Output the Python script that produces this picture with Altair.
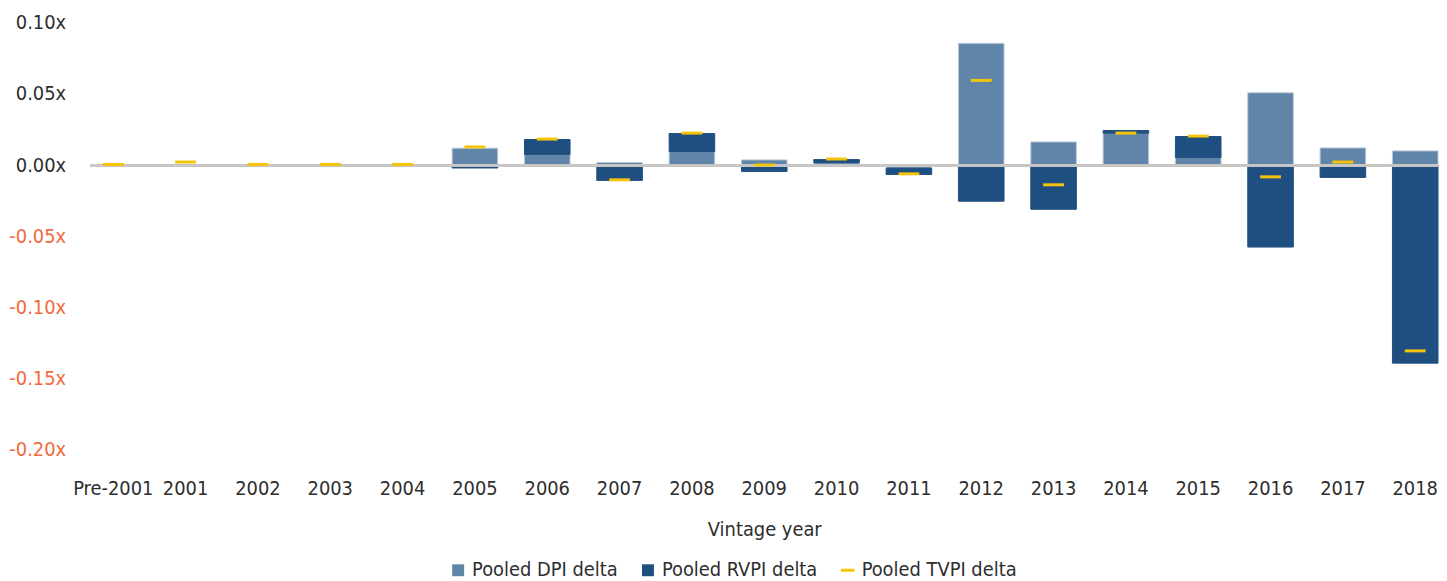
import altair as alt
import pandas as pd

categories = ["Pre-2001", "2001", "2002", "2003", "2004", "2005", "2006", "2007", "2008", "2009",
              "2010", "2011", "2012", "2013", "2014", "2015", "2016", "2017", "2018"]
dpi_delta = [0.0, 0.0, 0.0, 0.0, 0.0, 0.0119, 0.0075, 0.0019, 0.0096, 0.0037,
             0.0019, -0.0023, 0.0855, 0.0163, 0.0224, 0.0054, 0.0508, 0.0121, 0.0100]
rvpi_delta = [0.0, 0.0, 0.0, 0.0, 0.0, -0.0020, 0.0105, -0.0107, 0.0126, -0.0044,
              0.0020, -0.0042, -0.0253, -0.0310, 0.0019, 0.0147, -0.0575, -0.0086, -0.1390]
tvpi_delta = [0.0005, 0.0022, 0.0005, 0.0005, 0.0005, 0.0128, 0.0183, -0.0103, 0.0225, 0.0001,
              0.0043, -0.0061, 0.0595, -0.0138, 0.0225, 0.0204, -0.0082, 0.0022, -0.1304]
series_names = ["Pooled DPI delta", "Pooled RVPI delta", "Pooled TVPI delta"]
y_ticks = [-0.20, -0.15, -0.10, -0.05, 0.0, 0.05, 0.10]

rows = []
for i, c in enumerate(categories):
    rows.append({"year": c, "series": series_names[0], "value": dpi_delta[i], "ord": 0})
    rows.append({"year": c, "series": series_names[1], "value": rvpi_delta[i], "ord": 1})
    rows.append({"year": c, "series": series_names[2], "value": tvpi_delta[i], "ord": 2})
df = pd.DataFrame(rows)

FONT = "DejaVu Sans Condensed, Roboto, sans-serif"
DPI_C = "#6085A8"
RVPI_C = "#1F4F80"
TVPI_C = "#F5C30A"
NEG_C = "#F26A3D"
TXT_C = "#2E2E2E"

color_scale = alt.Scale(domain=series_names, range=[DPI_C, RVPI_C, TVPI_C])

x_enc = alt.X("year:N", sort=categories, title="Vintage year",
              scale=alt.Scale(paddingInner=0.37, paddingOuter=0.0),
              axis=alt.Axis(labelAngle=0, ticks=False, tickSize=0, domain=False,
                            labelPadding=29, titlePadding=21,
                            labelFontSize=20, titleFontSize=20, labelColor=TXT_C,
                            titleColor=TXT_C, titleFontWeight="normal",
                            labelFont=FONT, titleFont=FONT))

y_axis = alt.Axis(values=y_ticks, grid=False, ticks=False, tickSize=0, domain=False,
                  labelPadding=25, labelFontSize=20, labelFont=FONT,
                  labelExpr="(datum.value < -0.0001 ? '-' : '') + format(abs(datum.value), '.2f') + 'x'",
                  labelColor={"condition": {"test": "datum.value < -0.0001", "value": NEG_C}, "value": TXT_C},
                  minExtent=83, maxExtent=83, title=None)
y_scale = alt.Scale(domain=[-0.2, 0.1], nice=False, zero=False)

base = alt.Chart(df)

bars = base.transform_filter(
    "datum.ord < 2 && datum.value != 0"
).mark_bar(strokeWidth=1).encode(
    x=x_enc,
    y=alt.Y("value:Q", stack="zero", scale=y_scale, axis=y_axis),
    color=alt.Color("series:N", scale=color_scale),
    stroke=alt.Stroke("series:N", scale=alt.Scale(domain=series_names[:2], range=["#B9C9DA", RVPI_C]), legend=None),
    order=alt.Order("ord:Q"),
)

zero_rule = base.mark_rule(color="#C8C6C4", strokeWidth=2).encode(y=alt.datum(0))

ticks = base.transform_filter("datum.ord == 2").mark_tick(size=21, thickness=3, opacity=1).encode(
    x=alt.X("year:N", sort=categories),
    y=alt.Y("value:Q"),
    color=alt.Color("series:N", scale=color_scale),
)

leg_props = dict(title=None, orient="none", direction="horizontal",
                 legendX=360, legendY=541, symbolSize=144,
                 symbolOpacity=1, symbolStrokeWidth=0,
                 labelFont=FONT, labelFontSize=20, labelColor=TXT_C, labelLimit=400,
                 labelOffset=4, columnPadding=20)

legend_layer = base.mark_point(filled=True, opacity=0).encode(
    x=alt.X("year:N", sort=categories),
    y=alt.Y("value:Q"),
    color=alt.Color("series:N", scale=color_scale, legend=alt.Legend(**leg_props)),
    shape=alt.Shape("series:N", scale=alt.Scale(domain=series_names,
                                                range=["square", "square", "M-1.15,-0.25L1.15,-0.25L1.15,0.25L-1.15,0.25Z"]),
                    legend=alt.Legend(**leg_props)),
)

chart = alt.layer(bars, zero_rule, ticks, legend_layer).properties(
    width=1356, height=430,
    padding={"left": 0, "top": 3, "right": 0, "bottom": 0},
).configure(font=FONT).configure_view(stroke=None)

chart.save("out.html", embed_options={"renderer": "svg", "actions": False})
